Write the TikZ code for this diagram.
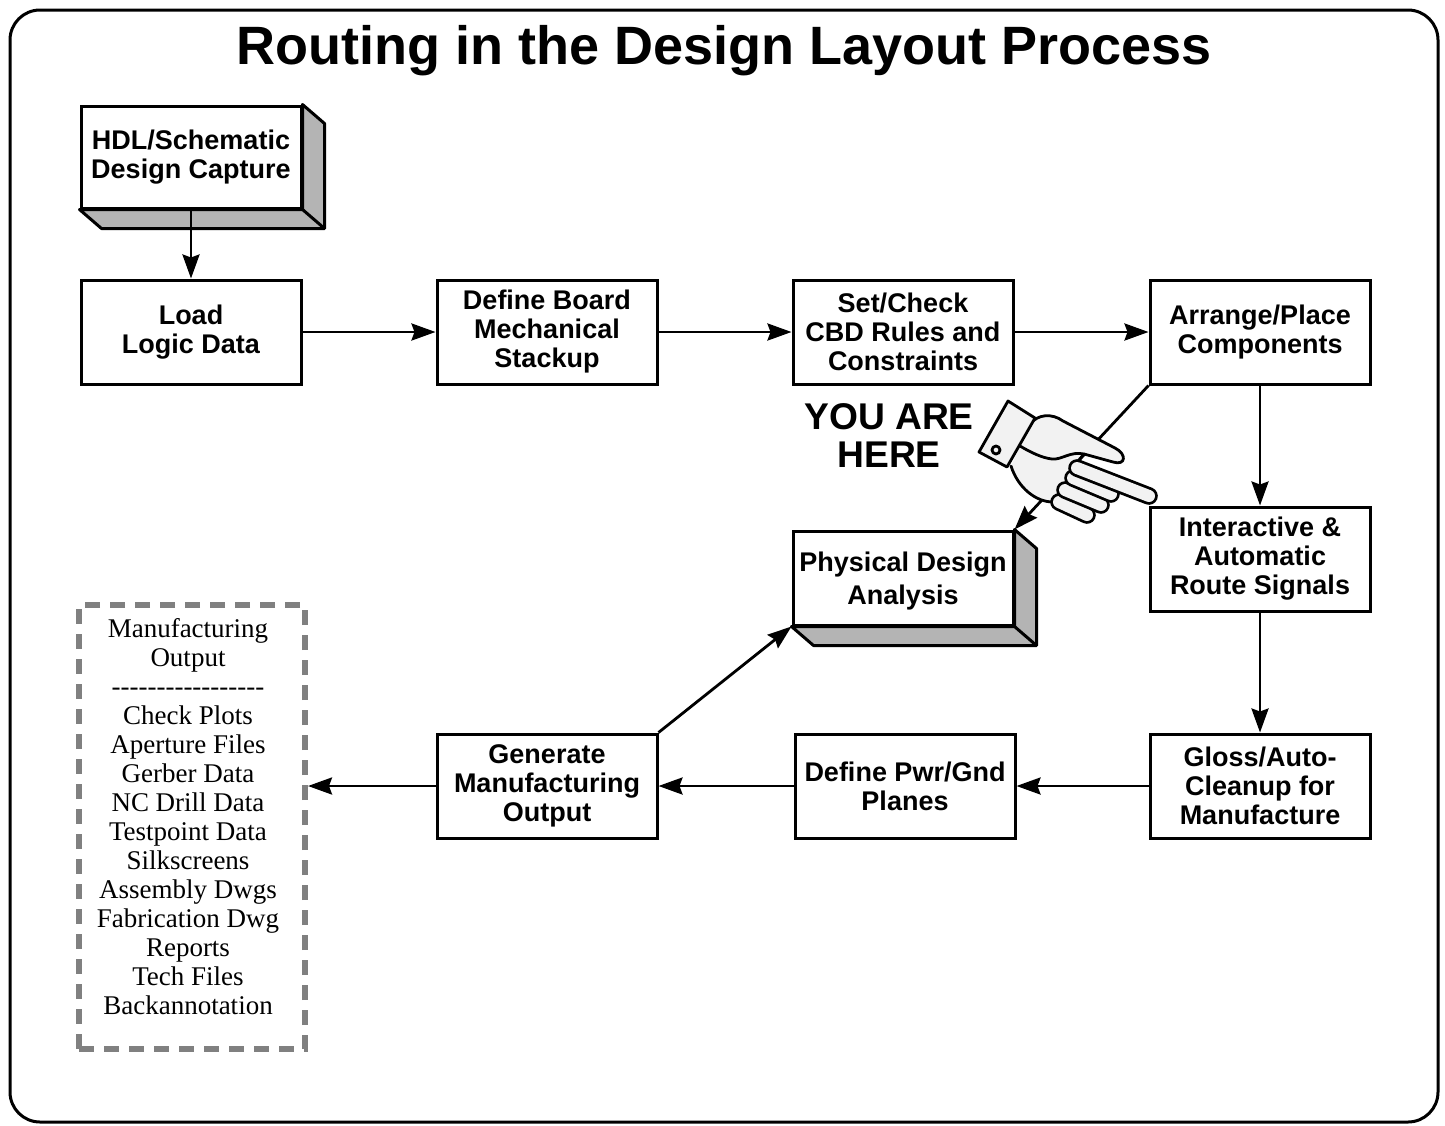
\documentclass[tikz,border=0pt]{standalone}
\usepackage{fontspec}
\setmainfont{Liberation Serif}
\setsansfont{Liberation Sans}
\usetikzlibrary{arrows.meta,calc}

\definecolor{sidegray}{RGB}{180,180,180}
\definecolor{handgray}{RGB}{242,242,242}
\definecolor{dashgray}{RGB}{128,128,128}

% shaded depth behind a raised box
\newcommand{\boxside}[1]{%
  \draw[line width=1.5pt, line join=round, fill=sidegray]
    (#1.north east) -- ($(#1.north east)+(22,19)$) -- ($(#1.south east)+(22,19)$)
    -- ($(#1.south west)+(22,19)$) -- (#1.south west) -- (#1.south east) -- cycle;
  \draw[line width=1.5pt] (#1.south east) -- ($(#1.south east)+(22,19)$);
}
% one finger of the hand
\newcommand{\finger}[2]{%
  \draw[fingerrim] (#1) -- (#2);
  \draw[fingerfill] (#1) -- (#2);
}

\begin{document}
\begin{tikzpicture}[x=0.5pt,y=0.5pt,yscale=-1,
  block/.style={draw, line width=1.5pt, fill=white, align=center,
    minimum width=110pt, minimum height=52pt, inner sep=2pt,
    font=\sffamily\bfseries\fontsize{13.5}{14.5}\selectfont},
  outbox/.style={draw=dashgray, line width=3pt, dash pattern=on 7.5pt off 5pt,
    minimum width=113pt, minimum height=222pt},
  flow/.style={line width=1.4pt, -{Stealth[length=12pt,width=8.5pt,inset=1.5pt]}},
  handline/.style={line width=1.4pt, line join=round, line cap=round},
  fingerrim/.style={line width=8.8pt, line cap=round},
  fingerfill/.style={draw=handgray, line width=6pt, line cap=round}]
\useasboundingbox (0,0) rectangle (1445,1125);

% frame and title
\draw[line width=1.5pt, rounded corners=15pt] (10,10) rectangle (1438,1122);
\node[font=\sffamily\bfseries\fontsize{27}{30}\selectfont] (title) at (724,51) {Routing in the Design Layout Process};

% process boxes
\node[block, minimum height=51pt] (hdl) at (191,157) {HDL/Schematic\\Design Capture};
\boxside{hdl}
\node[block] (load) at (191,332) {Load\\Logic Data};
\node[block] (board) at (547,332) {Define Board\\Mechanical\\Stackup};
\node[block] (rules) at (903,332) {Set/Check\\CBD Rules and\\Constraints};
\node[block] (place) at (1260,332) {Arrange/Place\\Components};
\node[block] (route) at (1260,559) {Interactive \&\\Automatic\\Route Signals};
\node[block] (gloss) at (1260,786) {Gloss/Auto-\\Cleanup for\\Manufacture};
\node[block] (planes) at (905,786) {Define Pwr/Gnd\\Planes};
\node[block] (genout) at (547,786) {Generate\\Manufacturing\\Output};
\node[block, minimum height=47pt, text depth=0pt, font=\sffamily\bfseries\fontsize{13.5}{16.5}\selectfont] (pda) at (903,578) {Physical Design\\Analysis};
\boxside{pda}

% output list
\node[outbox] (mfgout) at (192,827) {};
\node[align=center, font=\fontsize{13.5}{14.5}\selectfont] (mfglist) at (188,817)
  {Manufacturing\\Output\\-{}-{}-{}-{}-{}-{}-{}-{}-{}-{}-{}-{}-{}-{}-{}-{}-\\Check Plots\\Aperture Files\\Gerber Data\\NC Drill Data\\Testpoint Data\\Silkscreens\\Assembly Dwgs\\Fabrication Dwg\\Reports\\Tech Files\\Backannotation};

% flow arrows
\draw[flow] (hdl) -- (load);
\draw[flow] (load) -- (board);
\draw[flow] (board) -- (rules);
\draw[flow] (rules) -- (place);
\draw[flow] (place) -- (route);
\draw[flow] (route) -- (gloss);
\draw[flow] (gloss) -- (planes);
\draw[flow] (planes) -- (genout);
\draw[flow] (genout.west) -- (genout.west -| mfgout.east);
\draw[flow] (genout.north east) -- (pda.south west);
\draw[flow] (place.south west) -- (pda.north east);

% you are here
\node[align=center, font=\sffamily\bfseries\fontsize{18.6}{19}\selectfont] (here) at (889,436) {YOU ARE\\HERE};

% pointing hand
\fill[handgray] (1030,424) .. controls (1038,414) and (1052,413) .. (1063,421)
  -- (1115,448) .. controls (1127,454) and (1126,466) .. (1113,462)
  -- (1084,454) -- (1076,462) -- (1067,477) -- (1060,490) -- (1053,502)
  .. controls (1036,502) and (1018,488) .. (1011,466) -- cycle;
\draw[handline] (1030,424) .. controls (1038,414) and (1052,413) .. (1063,421)
  -- (1115,448) .. controls (1127,454) and (1126,466) .. (1113,462)
  -- (1084,454) -- (1078,461);
\draw[handline] (1084,454) .. controls (1070,451) and (1062,460) .. (1052,459)
  .. controls (1042,458) and (1030,452) .. (1020,446);
\draw[handline] (1053,502) .. controls (1036,502) and (1018,488) .. (1011,466);
\finger{1059,502}{1087,515}
\finger{1065,490}{1101,505}
\finger{1073,478}{1111,494}
\finger{1077,468}{1149,496}
% cuff
\draw[handline, fill=handgray] (1008,401) -- (1035,418) -- (1007,467) -- (979,452) -- cycle;
\draw[handline] (996,450) circle[radius=4];

\end{tikzpicture}
\end{document}
